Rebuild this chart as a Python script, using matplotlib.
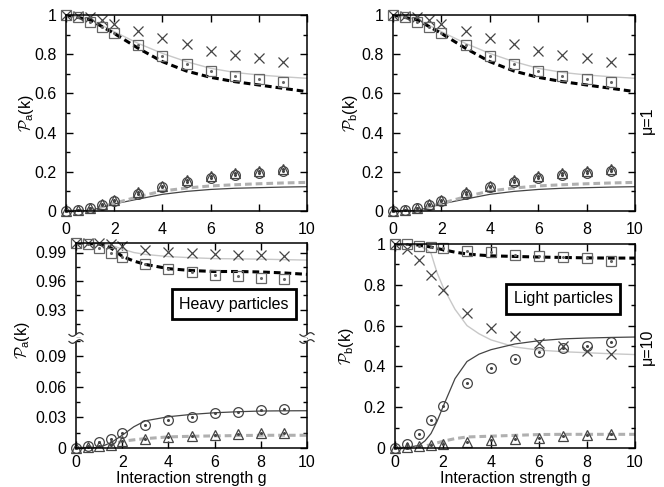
import numpy as np
import matplotlib
matplotlib.use("Agg")
import matplotlib.pyplot as plt
from matplotlib.lines import Line2D
from matplotlib.ticker import MultipleLocator

plt.rcParams['font.family'] = ['Liberation Sans', 'DejaVu Sans']
plt.rcParams['mathtext.fontset'] = 'custom'
plt.rcParams['mathtext.rm'] = 'Liberation Sans'
plt.rcParams['mathtext.cal'] = 'cmsy10'

# sample points (symbols)
g_pts = [0, 0.5, 1, 1.5, 2, 3, 4, 5, 6, 7, 8, 9]

# mu = 1 (same for a and b)
cross1 = [1.0, 0.995, 0.99, 0.975, 0.954, 0.918, 0.881, 0.850, 0.818, 0.796, 0.779, 0.762]
square1 = [1.0, 0.99, 0.966, 0.937, 0.906, 0.847, 0.791, 0.748, 0.714, 0.689, 0.672, 0.656]
circle1 = [0, 0.005, 0.014, 0.033, 0.051, 0.088, 0.122, 0.150, 0.170, 0.184, 0.196, 0.203]
tri1 = [0, 0.006, 0.017, 0.037, 0.056, 0.095, 0.130, 0.157, 0.177, 0.192, 0.203, 0.214]

g1 = [0, 1, 2, 3, 4, 5, 6, 7, 8, 9, 10]
light1 = [1.0, 0.978, 0.915, 0.855, 0.804, 0.762, 0.728, 0.707, 0.694, 0.685, 0.677]
bdash1 = [1.0, 0.975, 0.906, 0.830, 0.762, 0.714, 0.682, 0.660, 0.643, 0.626, 0.609]
gdash1 = [0, 0.005, 0.039, 0.073, 0.102, 0.117, 0.128, 0.134, 0.139, 0.143, 0.146]
dark1 = [0, 0.002, 0.036, 0.061, 0.085, 0.100, 0.110, 0.116, 0.119, 0.122, 0.124]

# mu = 10, heavy particles (a)
cross_a = [1.0, 1.0, 1.0, 0.999, 0.997, 0.993, 0.991, 0.989, 0.988, 0.987, 0.987, 0.9865]
square_a = [1.0, 0.999, 0.995, 0.990, 0.985, 0.978, 0.973, 0.969, 0.966, 0.965, 0.963, 0.9625]
circle_a = [0, 0.0016, 0.006, 0.009, 0.015, 0.0224, 0.0274, 0.0307, 0.034, 0.0356, 0.0373, 0.0382]
tri_a = [0, 0.001, 0.0016, 0.0033, 0.007, 0.0092, 0.0109, 0.0122, 0.0132, 0.0142, 0.0148, 0.0152]

g_a = [0, 1, 1.5, 2, 2.5, 3, 4, 5, 6, 7, 8, 9, 10]
light_a = [1.0, 0.9995, 0.998, 0.9936, 0.990, 0.988, 0.9857, 0.9845, 0.9836, 0.9833, 0.983, 0.9825, 0.982]
bdash_a = [1.0, 0.999, 0.995, 0.986, 0.981, 0.9775, 0.973, 0.971, 0.970, 0.970, 0.9695, 0.9685, 0.967]
dark_a = [0, 0.0005, 0.005, 0.0125, 0.0208, 0.0267, 0.0307, 0.033, 0.0346, 0.0356, 0.0363, 0.0365, 0.0366]
gdash_a = [0, 0.001, 0.003, 0.0066, 0.008, 0.0092, 0.0109, 0.0115, 0.0119, 0.0122, 0.0125, 0.0125, 0.0125]

# mu = 10, light particles (b)
cross_b = [1.0, 0.975, 0.92, 0.85, 0.776, 0.663, 0.589, 0.548, 0.515, 0.498, 0.474, 0.461]
square_b = [1.0, 1.0, 0.992, 0.984, 0.979, 0.967, 0.959, 0.946, 0.939, 0.934, 0.929, 0.918]
circle_b = [0, 0.021, 0.071, 0.137, 0.207, 0.317, 0.391, 0.436, 0.469, 0.49, 0.502, 0.518]
tri_b = [0, 0.003, 0.008, 0.016, 0.021, 0.030, 0.038, 0.046, 0.051, 0.058, 0.0625, 0.067]

g_b = [0, 0.5, 1, 1.25, 1.5, 1.75, 2, 2.5, 3, 3.5, 4, 5, 6, 7, 8, 9, 10]
light_b = [1.0, 0.998, 0.99, 0.978, 0.955, 0.86, 0.79, 0.68, 0.6, 0.56, 0.53, 0.495, 0.48, 0.472, 0.467, 0.462, 0.458]
dark_b = [0, 0.002, 0.013, 0.035, 0.071, 0.13, 0.202, 0.34, 0.424, 0.46, 0.482, 0.51, 0.526, 0.535, 0.539, 0.542, 0.544]
bdash_b = [1.0, 0.999, 0.995, 0.99, 0.985, 0.978, 0.972, 0.96, 0.951, 0.946, 0.942, 0.939, 0.936, 0.934, 0.932, 0.931, 0.931]
gdash_b = [0, 0.001, 0.005, 0.01, 0.016, 0.025, 0.033, 0.046, 0.054, 0.056, 0.058, 0.062, 0.066, 0.067, 0.067, 0.067, 0.067]

W, H = 664, 487
fig = plt.figure(figsize=(W / 100, H / 100), dpi=100)


def box(l, t, r, b):
    return [l / W, 1 - b / H, (r - l) / W, (b - t) / H]


FS = 11.5


def style(ax, ymaj, ymin, xpad=8):
    ax.set_xlim(0, 10)
    ax.xaxis.set_major_locator(MultipleLocator(2))
    ax.yaxis.set_major_locator(MultipleLocator(ymaj))
    ax.yaxis.set_minor_locator(MultipleLocator(ymin))
    ax.tick_params(which='both', direction='in', top=True, right=True, labelsize=FS, width=1)
    ax.tick_params(which='major', length=5)
    ax.tick_params(axis='x', which='major', pad=xpad)
    ax.tick_params(axis='y', which='major', pad=7)
    ax.tick_params(which='minor', length=3)
    for s in ax.spines.values():
        s.set_linewidth(1.1)


def lines(ax, g, light, bdash, dark, gdash):
    ax.plot(g, light, color='#c8c8c8', lw=1.0)
    ax.plot(g, bdash, color='black', lw=2.2, ls=(0, (2.2, 1.3)))
    ax.plot(g, dark, color='#444444', lw=0.9)
    ax.plot(g, gdash, color='#b0b0b0', lw=2.2, ls=(0, (2.2, 1.3)))


def symbols(ax, cross, square, circle, tri):
    kw = dict(ls='none', mfc='none', clip_on=False, mew=0.9)
    ax.plot(g_pts, cross, marker='x', ms=7, color='#444444', **kw)
    ax.plot(g_pts, square, marker='s', ms=7, color='#666666', **kw)
    ax.plot(g_pts, circle, marker='o', ms=7, color='#444444', **kw)
    ax.plot(g_pts, tri, marker='^', ms=6.5, color='#444444', **kw)
    for v, c in ((square, '#666666'), (circle, '#444444'), (tri, '#444444')):
        ax.plot(g_pts, v, ls='none', marker='o', ms=1.2, color=c, clip_on=False)


def fmt(v, pos):
    return '%g' % v


# top panels (mu = 1)
for l, r, sub, lx in ((66, 307, 'a', 26), (393, 635, 'b', 350)):
    ax = fig.add_axes(box(l, 15, r, 211))
    lines(ax, g1, light1, bdash1, dark1, gdash1)
    symbols(ax, cross1, square1, circle1, tri1)
    ax.set_ylim(0, 1)
    style(ax, 0.2, 0.1)
    ax.yaxis.set_major_formatter(fmt)
    fig.text(lx / W, 1 - 113 / H, r'$\mathcal{P}_{\rm %s}$(k)' % sub, rotation=90,
             ha='center', va='center', fontsize=FS)

# bottom-left: broken axis
axu = fig.add_axes(box(76, 243, 307, 338))
axl = fig.add_axes(box(76, 338, 307, 448))
for ax in (axu, axl):
    lines(ax, g_a, light_a, bdash_a, dark_a, gdash_a)
    symbols(ax, cross_a, square_a, circle_a, tri_a)
axu.set_ylim(0.9, 1.0)
axl.set_ylim(0, 0.108)
style(axu, 0.03, 0.015)
style(axl, 0.03, 0.015, xpad=5)
axu.set_yticks([0.93, 0.96, 0.99])
axl.set_yticks([0, 0.03, 0.06, 0.09])
axu.yaxis.set_major_formatter(fmt)
axl.yaxis.set_major_formatter(fmt)
axu.spines['bottom'].set_visible(False)
axl.spines['top'].set_visible(False)
axu.tick_params(which='both', bottom=False, labelbottom=False)
axl.tick_params(which='both', top=False)
axu.spines['left'].set_bounds(0.904, 1.0)
axu.spines['right'].set_bounds(0.904, 1.0)
axl.spines['left'].set_bounds(0, 0.104)
axl.spines['right'].set_bounds(0, 0.104)
fig.text(191 / W, 1 - 478 / H, 'Interaction strength g', ha='center', va='center', fontsize=FS)
fig.text(22 / W, 1 - 340 / H, r'$\mathcal{P}_{\rm a}$(k)', rotation=90,
         ha='center', va='center', fontsize=FS)

# break marks
t = np.linspace(-7, 7, 30)
for xc in (76, 307):
    for yc in (334.5, 341.5):
        fig.add_artist(Line2D((xc + t) / W, 1 - (yc - 1.8 * np.sin(np.pi * t / 7)) / H,
                              color='#333333', lw=0.9))

fig.text(234 / W, 1 - 304 / H, 'Heavy particles', ha='center', va='center', fontsize=FS,
         bbox=dict(boxstyle='square,pad=0.45', fc='white', ec='black', lw=2))

# bottom-right
ax = fig.add_axes(box(395, 244, 635, 448))
lines(ax, g_b, light_b, bdash_b, dark_b, gdash_b)
symbols(ax, cross_b, square_b, circle_b, tri_b)
ax.set_ylim(0, 1)
style(ax, 0.2, 0.1, xpad=5)
ax.yaxis.set_major_formatter(fmt)
fig.text(515 / W, 1 - 478 / H, 'Interaction strength g', ha='center', va='center', fontsize=FS)
fig.text(347 / W, 1 - 346 / H, r'$\mathcal{P}_{\rm b}$(k)', rotation=90,
         ha='center', va='center', fontsize=FS)
fig.text(563 / W, 1 - 299 / H, 'Light particles', ha='center', va='center', fontsize=FS,
         bbox=dict(boxstyle='square,pad=0.45', fc='white', ec='black', lw=2))

fig.text(647 / W, 1 - 120 / H, 'μ=1', rotation=90, ha='center', va='center', fontsize=FS)
fig.text(647 / W, 1 - 347 / H, 'μ=10', rotation=90, ha='center', va='center', fontsize=FS)

fig.savefig('out.png', dpi=100)
